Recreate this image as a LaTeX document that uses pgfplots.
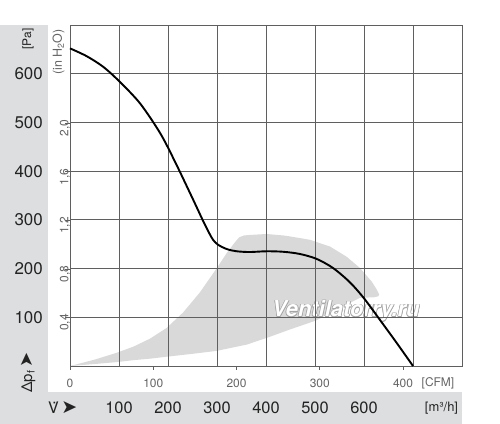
\documentclass[border=0pt]{standalone}
\usepackage{pgfplots}
\pgfplotsset{compat=1.18}
\usepackage{fontspec}
\setmainfont{TeX Gyre Heros}
\newfontfamily\dejavu{DejaVu Sans}
\definecolor{band}{RGB}{221,222,223}
\definecolor{shade}{RGB}{217,217,217}
\definecolor{gridc}{RGB}{95,95,95}
\definecolor{labdark}{RGB}{35,35,35}
\definecolor{labgray}{RGB}{100,100,100}
\definecolor{wmgray}{RGB}{165,165,165}
\newcommand{\fs}[1]{\fontsize{#1}{#1}\selectfont}
\pgfplotsset{base/.style={at={(70bp,58bp)}, anchor=south west, scale only axis,
  width=392bp, height=341bp, /pgf/number format/assume math mode=true}}
\begin{document}
\begin{tikzpicture}
\path[use as bounding box] (0bp,0bp) rectangle (500bp,424bp);
\fill[band] (0bp,0bp) rectangle (462bp,32bp);
\fill[band] (0bp,32bp) rectangle (48bp,399bp);

% shaded operating region
\begin{axis}[base, xmin=0, xmax=800, ymin=0, ymax=700, hide axis]
\addplot[fill=shade, draw=none] coordinates {
 (0,0) (50,13) (95,27) (130,40) (163,56) (197,78) (231,110) (265,151)
 (299,200) (320,232) (335,252) (345,264) (355,268) (367,269) (401,271)
 (435,268) (449,266) (490,259) (531,245) (565,224) (592,201) (616,173)
 (626,157) (631,147) (629,143) (620,141) (592,140) (568,128) (544,115)
 (501,93) (449,75) (408,60) (361,44) (299,31) (250,25) (197,19) (163,15)
 (130,12) (95,8) (50,4) (0,0)};
\end{axis}

% watermark
\foreach \dx/\dy in {0.7/0,-0.7/0,0/0.7,0/-0.7,0.5/0.5,-0.5/0.5,0.5/-0.5,-0.5/-0.5}{
  \node[anchor=base west, inner sep=0pt, text=wmgray, font=\fs{22}\bfseries\itshape] at (272bp+\dx bp,107bp+\dy bp) {Ventilatorry.ru};
}
\node[anchor=base west, inner sep=0pt, text=white, font=\fs{22}\bfseries\itshape] at (272bp,107bp) {Ventilatorry.ru};

% main axis: m3/h and Pa
\begin{axis}[base, xmin=0, xmax=800, ymin=0, ymax=700,
  xtick={0,100,...,800}, ytick={0,100,...,700},
  xticklabels={,100,200,300,400,500,600,,},
  yticklabels={,100,200,300,400,500,600,},
  grid=major, major grid style={gridc, line width=0.8bp},
  axis line style={gridc, line width=0.9bp},
  major tick length=0pt,
  xticklabel style={font=\fs{16.5}, text=labdark, anchor=center, inner sep=0pt, yshift=-42bp},
  yticklabel style={font=\fs{17}, text=labdark, anchor=east, inner sep=0pt, xshift=-27bp},
  clip=false]
\addplot[black, line width=1.9bp, smooth] coordinates {
 (0,652) (34,636) (68,614) (101,584) (143,539) (184,478) (214,420) (252,340)
 (272,297) (284,273) (292,259) (302,249) (320,240) (340,235.5) (367,234)
 (401,235.5) (435,234.5) (469,230) (503,220) (537,201) (571,172) (600,139)
 (633,94) (667,47) (700,0)};
\end{axis}

% CFM axis
\begin{axis}[base, xmin=0, xmax=470.87, ymin=0, ymax=1,
  axis line style={draw=none}, ytick=\empty,
  xtick={0,100,200,300,400}, xticklabels={0,100,200,300,400},
  xtick pos=bottom, tick align=outside,
  major tick length=4bp, tick style={gridc, line width=0.8bp},
  xticklabel style={font=\fs{12}, text=labgray, anchor=center, inner sep=0pt, yshift=-13.5bp}]
\end{axis}

% inH2O axis
\begin{axis}[base, xmin=0, xmax=1, ymin=0, ymax=2.81025,
  axis line style={draw=none}, xtick=\empty,
  ytick={0.4,0.8,1.2,1.6,2.0}, yticklabels={{0,4},{0,8},{1,2},{1,6},{2,0}},
  ytick pos=left, tick align=outside,
  major tick length=5bp, tick style={gridc, line width=0.8bp},
  yticklabel style={font=\fs{12}, text=labgray, rotate=90, anchor=center, inner sep=0pt, xshift=-5bp}]
\end{axis}

% labels
\node[rotate=90, font=\fs{12}, text=labdark, inner sep=0pt] at (28bp,385bp) {[Pa]};
\node[rotate=90, font=\fs{12.5}, text=labgray, inner sep=0pt] at (58.5bp,372bp) {(in H\textsubscript{2}O)};
\node[font=\fs{12}, text=labgray, inner sep=0pt] at (438bp,40.5bp) {[CFM]};
\node[font=\fs{13}, text=labdark, inner sep=0pt] at (441.5bp,16bp) {[m³/h]};
\node[font=\fs{16}, text=labdark, inner sep=0pt, anchor=west] at (48bp,16bp) {\.{V}\,{\dejavu\fs{19}➤}};
\node[rotate=90, font=\fs{15}, text=labdark, inner sep=0pt, anchor=west] at (28bp,31bp) {Δp\textsubscript{f}\,{\dejavu\fs{18}➤}};
\end{tikzpicture}
\end{document}
